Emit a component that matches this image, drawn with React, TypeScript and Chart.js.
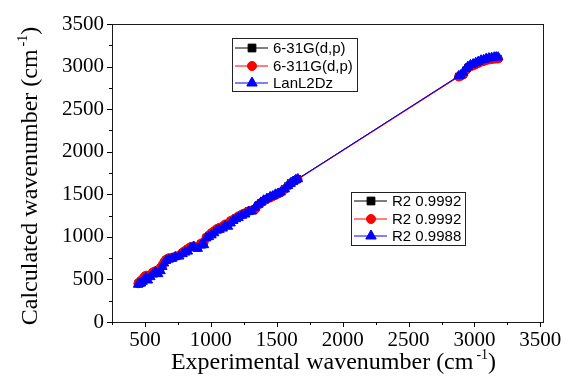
import React, { useEffect, useRef } from "react";
import { Chart, registerables } from "chart.js";
import { drawPoint } from "chart.js/helpers";

Chart.register(...registerables);

// Experimental wavenumbers (cm-1)
const experimental = [
  448, 458, 470, 482, 495, 508, 522, 540, 560, 580, 600, 618, 632, 645, 660, 680, 705, 730, 760, 785,
  805, 825, 848, 870, 900, 925, 948, 965, 985, 1005, 1025, 1045, 1065, 1090, 1110, 1130, 1150, 1170, 1190, 1210,
  1235, 1260, 1285, 1310, 1335, 1360, 1380, 1400, 1425, 1450, 1470, 1490, 1510, 1530, 1560, 1585, 1605, 1625, 1645, 1660,
  2880, 2895, 2915, 2935, 2950, 2970, 2990, 3010, 3030, 3050, 3070, 3090, 3110, 3130, 3150, 3165, 3180,
];

// Calculated wavenumbers, 6-31G(d,p)
const calc631G = [
  455, 466, 484, 500, 526, 545, 530, 556, 580, 598, 590, 636, 665, 700, 730, 748, 755, 770, 782, 815,
  836, 858, 882, 890, 875, 920, 935, 992, 1016, 1044, 1066, 1090, 1106, 1120, 1146, 1150, 1186, 1200, 1224, 1240,
  1262, 1284, 1305, 1318, 1330, 1378, 1402, 1425, 1445, 1465, 1478, 1495, 1508, 1525, 1565, 1602, 1635, 1655, 1670, 1682,
  2885, 2893, 2910, 2960, 2990, 3005, 3015, 3030, 3045, 3060, 3066, 3078, 3084, 3088, 3094, 3096, 3095,
];

// Calculated wavenumbers, 6-311G(d,p)
const calc6311G = [
  452, 470, 488, 505, 530, 548, 535, 552, 585, 600, 592, 640, 668, 705, 735, 752, 758, 768, 785, 818,
  840, 862, 885, 892, 880, 925, 940, 995, 1020, 1048, 1070, 1095, 1110, 1125, 1150, 1155, 1190, 1205, 1220, 1245,
  1265, 1280, 1300, 1310, 1320, 1375, 1400, 1420, 1440, 1460, 1475, 1490, 1505, 1520, 1560, 1598, 1630, 1650, 1665, 1675,
  2880, 2888, 2905, 2955, 2985, 3000, 3010, 3025, 3040, 3055, 3062, 3075, 3080, 3085, 3090, 3092, 3092,
];

// Calculated wavenumbers, LanL2Dz
const calcLanL2Dz = [
  440, 452, 455, 475, 500, 520, 490, 530, 560, 590, 565, 600, 650, 690, 720, 735, 745, 765, 772, 800,
  818, 830, 870, 885, 862, 900, 905, 985, 1000, 1020, 1045, 1075, 1085, 1100, 1130, 1122, 1160, 1190, 1210, 1225,
  1250, 1265, 1295, 1300, 1345, 1380, 1405, 1430, 1450, 1470, 1480, 1500, 1510, 1525, 1560, 1600, 1625, 1650, 1670, 1680,
  2890, 2900, 2930, 2975, 3000, 3020, 3030, 3045, 3060, 3075, 3080, 3095, 3100, 3105, 3110, 3112, 3110,
];

const seriesNames = ["6-31G(d,p)", "6-311G(d,p)", "LanL2Dz"];
const r2Labels = ["R2 0.9992", "R2 0.9992", "R2 0.9988"];

const xTickValues = [500, 1000, 1500, 2000, 2500, 3000, 3500];
const yTickValues = [0, 500, 1000, 1500, 2000, 2500, 3000, 3500];

const xTitle = "Experimental wavenumber (cm";
const yTitle = "Calculated wavenumber (cm";
const unitSup = "-1";

const SERIF = '"Liberation Serif", "Times New Roman", serif';
const SANS = '"Liberation Sans", Arial, sans-serif';

const styles = [
  { color: "#000000", pointStyle: "rect", radius: 4.5, legendRadius: 5.5 },
  { color: "#ff0000", pointStyle: "circle", radius: 4.2, legendRadius: 4.5 },
  { color: "#0000ff", pointStyle: "triangle", radius: 5.5, legendRadius: 6 },
];

function toPoints(ys: number[]) {
  return experimental.map((x, i) => ({ x, y: ys[i] }));
}

function drawLegend(
  ctx: CanvasRenderingContext2D,
  left: number,
  top: number,
  width: number,
  height: number,
  rowYs: number[],
  labels: string[],
) {
  ctx.save();
  ctx.fillStyle = "#ffffff";
  ctx.fillRect(left, top, width, height);
  ctx.strokeStyle = "#222222";
  ctx.lineWidth = 1;
  ctx.strokeRect(Math.round(left) + 0.5, Math.round(top) + 0.5, width, height);
  labels.forEach((label, i) => {
    const st = styles[i];
    const y = top + rowYs[i];
    ctx.strokeStyle = st.color;
    ctx.lineWidth = 1;
    ctx.beginPath();
    ctx.moveTo(left + 3, y);
    ctx.lineTo(left + 36, y);
    ctx.stroke();
    ctx.fillStyle = st.color;
    drawPoint(ctx, { pointStyle: st.pointStyle as any, radius: st.legendRadius, rotation: 0, borderWidth: 1 }, left + 20, y);
    ctx.fillStyle = "#000000";
    ctx.font = `15px ${SANS}`;
    ctx.textBaseline = "middle";
    ctx.textAlign = "left";
    ctx.fillText(label, left + 41, y + 0.5);
  });
  ctx.restore();
}

const framePlugin = {
  id: "frameAndTicks",
  afterDatasetsDraw(chart: any) {
    const { ctx, chartArea: a, scales } = chart;
    const xs = scales.x;
    const ys = scales.y;
    ctx.save();
    ctx.strokeStyle = "#1a1a1a";
    ctx.lineWidth = 1;
    ctx.strokeRect(Math.round(a.left) + 0.5, Math.round(a.top) + 0.5, Math.round(a.right - a.left), Math.round(a.bottom - a.top));
    ctx.strokeStyle = "#000";
    for (let v = ys.min; v <= ys.max + 1e-6; v += 250) {
      const py = Math.round(ys.getPixelForValue(v)) + 0.5;
      const len = v % 500 === 0 ? 5 : 3;
      ctx.beginPath();
      ctx.moveTo(a.left, py);
      ctx.lineTo(a.left - len, py);
      ctx.stroke();
    }
    for (let v = 250; v <= xs.max + 1e-6; v += 250) {
      if (v < xs.min) continue;
      const px = Math.round(xs.getPixelForValue(v)) + 0.5;
      const len = v % 500 === 0 ? 5 : 3;
      ctx.beginPath();
      ctx.moveTo(px, a.bottom);
      ctx.lineTo(px, a.bottom + len);
      ctx.stroke();
    }
    ctx.restore();
  },
  afterDraw(chart: any) {
    const { ctx, chartArea: a } = chart;
    drawLegend(ctx, a.left + 120, a.top + 14, 125, 53, [10, 28, 45], seriesNames);
    drawLegend(ctx, a.left + 239, a.top + 168, 114, 53, [9, 27, 44], r2Labels);

    const drawTitle = (main: string, cx: number, baseline: number) => {
      ctx.font = `24px ${SERIF}`;
      const w1 = ctx.measureText(main).width;
      ctx.font = `14px ${SERIF}`;
      const w2 = ctx.measureText(unitSup).width;
      ctx.font = `24px ${SERIF}`;
      const w3 = ctx.measureText(")").width;
      const total = w1 + 3 + w2 + w3;
      let x = cx - total / 2;
      ctx.fillStyle = "#000";
      ctx.textAlign = "left";
      ctx.textBaseline = "alphabetic";
      ctx.fillText(main, x, baseline);
      x += w1 + 3;
      ctx.font = `14px ${SERIF}`;
      ctx.fillText(unitSup, x, baseline - 10);
      x += w2;
      ctx.font = `24px ${SERIF}`;
      ctx.fillText(")", x, baseline);
    };
    ctx.save();
    drawTitle(xTitle, (a.left + a.right) / 2 + 6, 369);
    ctx.restore();
    ctx.save();
    ctx.translate(37, (a.top + a.bottom) / 2 + 3);
    ctx.rotate(-Math.PI / 2);
    drawTitle(yTitle, 0, 0);
    ctx.restore();
  },
};

export default function App() {
  const ref = useRef<HTMLCanvasElement>(null);
  useEffect(() => {
    const canvas = ref.current;
    if (!canvas) return;
    const seriesData = [calc631G, calc6311G, calcLanL2Dz];
    const chart = new Chart(canvas, {
      type: "line",
      data: {
        datasets: seriesData.map((ys, i) => ({
          label: seriesNames[i],
          data: toPoints(ys),
          borderColor: styles[i].color,
          backgroundColor: styles[i].color,
          pointBackgroundColor: styles[i].color,
          pointBorderColor: styles[i].color,
          pointStyle: styles[i].pointStyle as any,
          pointRadius: styles[i].radius,
          pointBorderWidth: 1,
          borderWidth: 1,
          tension: 0,
          fill: false,
          order: 2 - i,
        })),
      },
      options: {
        responsive: false,
        animation: false,
        devicePixelRatio: 1,
        layout: { padding: { top: 24, right: 22, left: 0, bottom: 0 } },
        plugins: { legend: { display: false }, tooltip: { enabled: false } },
        scales: {
          x: {
            type: "linear",
            min: 250,
            max: 3520,
            afterBuildTicks: (s: any) => {
              s.ticks = xTickValues.map((v) => ({ value: v }));
            },
            afterFit: (s: any) => {
              s.height = 54;
            },
            grid: { display: true, drawOnChartArea: false, drawTicks: true, tickLength: 5, color: "rgba(0,0,0,0)" },
            border: { display: false },
            ticks: {
              color: "#000",
              padding: 1,
              maxRotation: 0,
              autoSkip: false,
              font: { family: SERIF, size: 21 },
              callback: (v: any) => String(v),
            },
          },
          y: {
            type: "linear",
            min: 0,
            max: 3500,
            afterBuildTicks: (s: any) => {
              s.ticks = yTickValues.map((v) => ({ value: v }));
            },
            afterFit: (s: any) => {
              s.width = 112;
            },
            grid: { display: true, drawOnChartArea: false, drawTicks: true, tickLength: 5, color: "rgba(0,0,0,0)" },
            border: { display: false },
            ticks: {
              color: "#000",
              padding: 3,
              autoSkip: false,
              font: { family: SERIF, size: 21 },
              callback: (v: any) => String(v),
            },
          },
        },
      },
      plugins: [framePlugin],
    } as any);
    return () => chart.destroy();
  }, []);
  return (
    <div style={{ position: "fixed", left: 0, top: 0, width: 565, height: 376, background: "#fff" }}>
      <canvas ref={ref} width={565} height={376} style={{ display: "block", width: 565, height: 376 }} />
    </div>
  );
}
